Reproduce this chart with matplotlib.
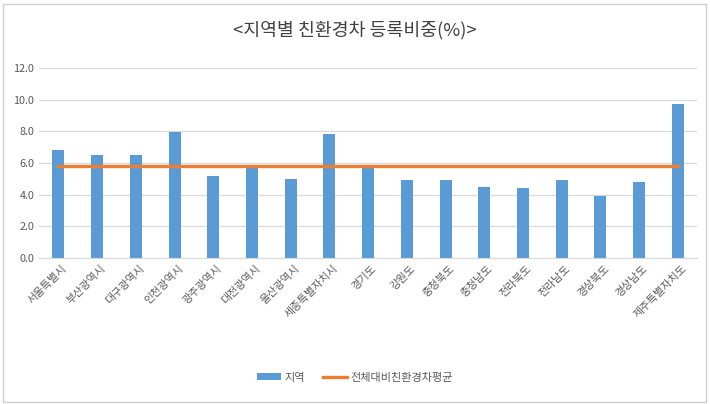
import matplotlib.pyplot as plt
import matplotlib.patches as mpatches
import matplotlib.transforms as mtransforms
import numpy as np

plt.rcParams['font.family'] = ['Noto Sans CJK KR', 'DejaVu Sans']

# ── Data ──────────────────────────────────────────────────────────────────────
regions = ['서울특별시', '부산광역시', '대구광역시', '인천광역시', '광주광역시',
           '대전광역시', '울산광역시', '세종특별자치시', '경기도', '강원도',
           '충청북도', '충청남도', '전라북도', '전라남도', '경상북도',
           '경상남도', '제주특별자치도']
share = [6.8, 6.5, 6.5, 7.95, 5.2, 5.8, 5.0, 7.85, 5.8, 4.95,
         4.95, 4.5, 4.4, 4.95, 3.9, 4.8, 9.7]
avg_share = [5.8] * len(regions)

BLUE = '#5b9bd5'
ORANGE = '#ed7d31'
TXT = '#595959'
GRID = '#d9d9d9'

fig = plt.figure(figsize=(7.1, 4.04), dpi=100)
ax = fig.add_axes([0.055, 0.361, 0.927, 0.471])

x = np.arange(len(regions))
bars = ax.bar(x, share, width=0.31, color=BLUE, zorder=2, label='지역')
line, = ax.plot(x, avg_share, color=ORANGE, linewidth=2.4, zorder=3,
                label='전체대비친환경차평균')

ax.set_xlim(-0.5, len(regions) - 0.5)
ax.set_ylim(0, 12)
ax.set_yticks(np.arange(0, 12.1, 2))
ax.set_yticklabels([f'{v:.1f}' for v in np.arange(0, 12.1, 2)])
ax.grid(axis='y', color=GRID, linewidth=0.9, zorder=0)
ax.set_xticks(x)
ax.set_xticklabels(regions, rotation=45, ha='right', va='center',
                   rotation_mode='anchor')
ax.tick_params(axis='both', length=0, colors=TXT, labelsize=7.8)
ax.tick_params(axis='x', pad=6, labelsize=7.8)
shift = mtransforms.ScaledTranslation(7 / 100, 0, fig.dpi_scale_trans)
for lab in ax.get_xticklabels():
    lab.set_transform(lab.get_transform() + shift)
for s in ['top', 'right', 'left']:
    ax.spines[s].set_visible(False)
ax.spines['bottom'].set_color(GRID)

fig.text(0.5, 0.925, '<지역별 친환경차 등록비중(%)>', ha='center', va='center',
         fontsize=13.2, color='#404040')

fig.legend(handles=[bars, line], labels=['지역', '전체대비친환경차평균'],
           loc='center', bbox_to_anchor=(0.5, 0.065), ncol=2, frameon=False,
           fontsize=8, labelcolor=TXT, handlelength=2.2, handleheight=0.55,
           columnspacing=1.6, handletextpad=0.3)

# outer frame
fig.add_artist(mpatches.Rectangle((0.004, 0.006), 0.99, 0.985, transform=fig.transFigure,
                                  fill=False, edgecolor='#d0d0d0', linewidth=1.0))

fig.savefig('out.png', dpi=100, facecolor='white')
